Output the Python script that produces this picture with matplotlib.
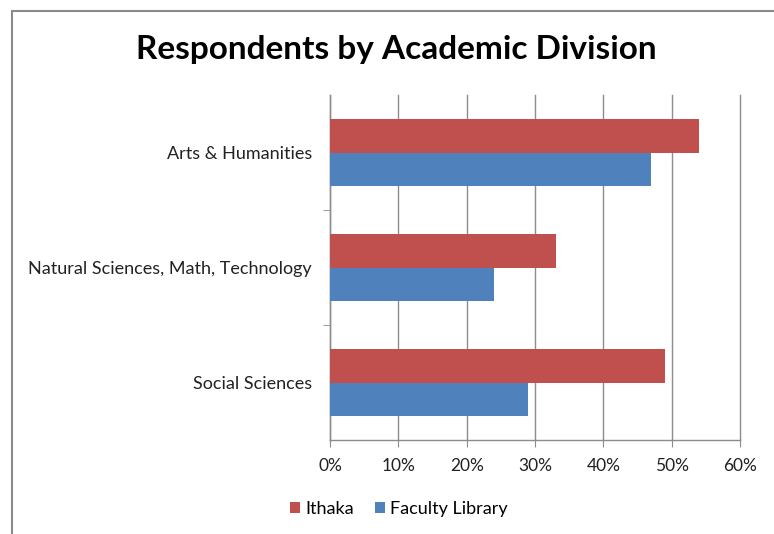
import numpy as np
import matplotlib
matplotlib.use('Agg')
import matplotlib.pyplot as plt
from matplotlib.patches import Rectangle

categories = ['Arts & Humanities', 'Natural Sciences, Math, Technology', 'Social Sciences']
ithaka = [54, 33, 49]
faculty_library = [47, 24, 29]
series_names = ['Ithaka', 'Faculty Library']
xticks = [0, 10, 20, 30, 40, 50, 60]

RED = '#C0504D'
BLUE = '#4F81BD'
GRID = '#8c8c8c'

plt.rcParams['font.family'] = ['Lato', 'DejaVu Sans']

fig = plt.figure(figsize=(7.74, 5.34), dpi=100)
ax = fig.add_axes([330 / 774, 94 / 534, 410 / 774, 345 / 534])

# outer chart border
fig.patches.append(Rectangle((12 / 774, -0.1), 1.1, 1.1 - 11 / 534,
                             transform=fig.transFigure, fill=False,
                             edgecolor='#8a8a8a', linewidth=1.5))

y = np.arange(len(categories))
h = 0.287
ax.barh(y - h / 2, ithaka, height=h, color=RED, label=series_names[0], zorder=3)
ax.barh(y + h / 2, faculty_library, height=h, color=BLUE, label=series_names[1], zorder=3)

ax.set_ylim(2.5, -0.5)
ax.set_xlim(0, 60)
ax.set_xticks(xticks)
ax.set_xticklabels([f'{t}%' for t in xticks], fontsize=12.5, color='#222222')
ax.set_yticks(y)
ax.set_yticklabels(categories, fontsize=13, color='#222222')
ax.tick_params(axis='y', length=0, pad=13)
ax.set_yticks([0.5, 1.5], minor=True)
ax.tick_params(axis='y', which='minor', length=5, color=GRID)
ax.tick_params(axis='x', length=5, color=GRID, pad=8, direction='out')

ax.grid(axis='x', color=GRID, linewidth=1, zorder=0)
for gl in ax.get_xgridlines():
    gl.set_clip_on(False)
for s in ['top', 'right']:
    ax.spines[s].set_visible(False)
for s in ['left', 'bottom']:
    ax.spines[s].set_color(GRID)
    ax.spines[s].set_linewidth(1)

fig.text(396 / 774, 1 - 50 / 534, 'Respondents by Academic Division',
         ha='center', va='center', fontsize=24, fontweight='bold')

fig.legend(loc='center', bbox_to_anchor=(399 / 774, 1 - 509 / 534), ncol=2,
           frameon=False, fontsize=13, handlelength=0.55, handleheight=0.55,
           handletextpad=0.3, columnspacing=1.15)

fig.savefig('out.png', dpi=100)
